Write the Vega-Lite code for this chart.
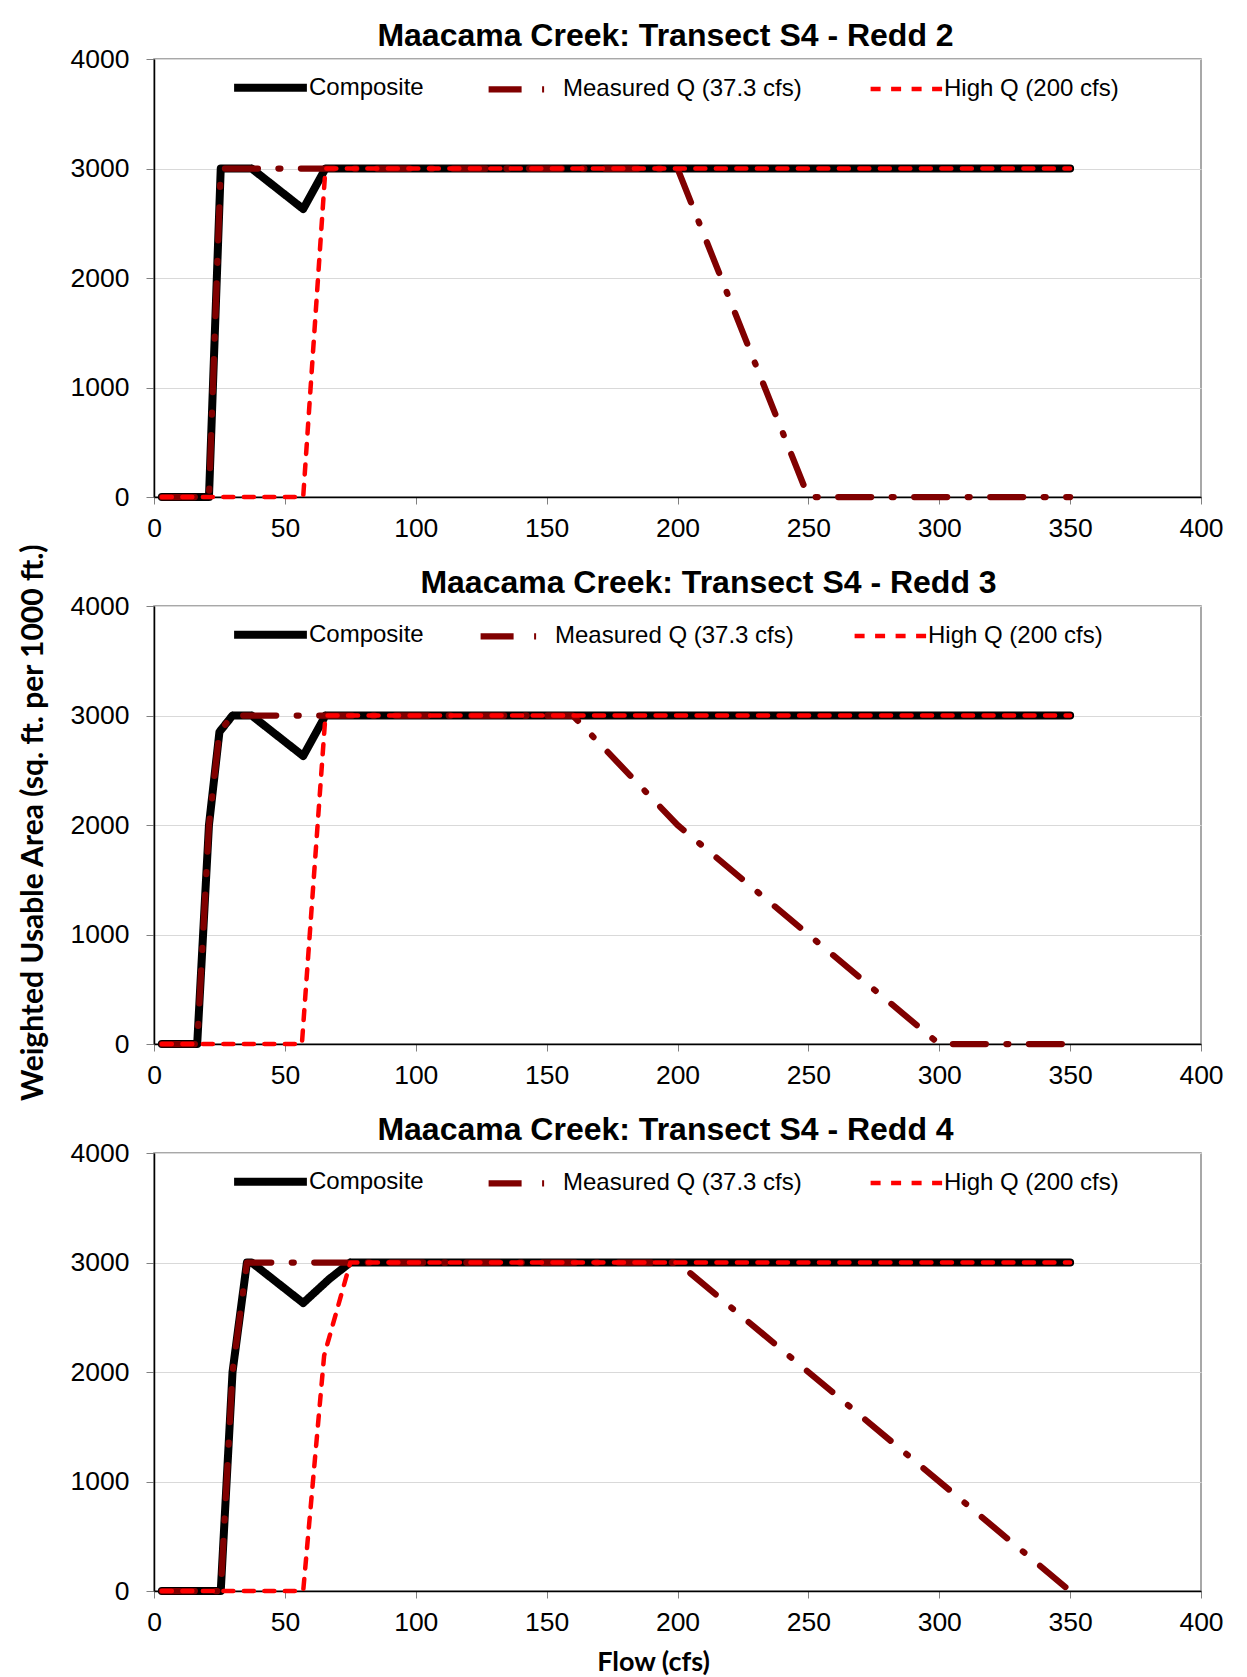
{
  "$schema": "https://vega.github.io/schema/vega-lite/v6.json",
  "background": "white",
  "padding": {"left": 19, "top": 19, "right": 5, "bottom": 0},
  "title": {"text": "Weighted Usable Area (sq. ft. per 1000 ft.)", "orient": "left", "anchor": "middle", "font": "Lato", "fontSize": 30, "fontWeight": "bold", "color": "black", "offset": 20, "dx": 25},
  "config": {
    "font": "Liberation Sans",
    "view": {"stroke": "#8c8c8c", "strokeWidth": 1.5},
    "axis": {"labelFont": "Liberation Sans", "labelFontSize": 26.5, "labelColor": "black", "domainColor": "black", "domainWidth": 1.5, "tickColor": "#808080", "tickSize": 7, "gridColor": "#d9d9d9", "gridWidth": 1.2, "format": "d", "labelFlush": false},
    "title": {"font": "Liberation Sans", "fontSize": 32, "fontWeight": "bold", "color": "black", "offset": -7},
    "legend": {"title": null, "orient": "none", "legendX": 76, "legendY": -12, "direction": "horizontal", "symbolType": "stroke", "symbolSize": 5300, "labelFontSize": 24, "labelFont": "Liberation Sans", "labelColor": "black", "labelOffset": -2, "labelLimit": 600, "columnPadding": 52}
  },
  "datasets": {
    "wua": [
      {"redd": "Redd 2", "series": "Composite", "flow": 3, "wua": 0},
      {"redd": "Redd 2", "series": "Composite", "flow": 21, "wua": 0},
      {"redd": "Redd 2", "series": "Composite", "flow": 25.5, "wua": 3000},
      {"redd": "Redd 2", "series": "Composite", "flow": 37.3, "wua": 3000},
      {"redd": "Redd 2", "series": "Composite", "flow": 57, "wua": 2630},
      {"redd": "Redd 2", "series": "Composite", "flow": 65.5, "wua": 3000},
      {"redd": "Redd 2", "series": "Composite", "flow": 350, "wua": 3000},
      {"redd": "Redd 2", "series": "Measured Q (37.3  cfs)", "flow": 3, "wua": 0},
      {"redd": "Redd 2", "series": "Measured Q (37.3  cfs)", "flow": 21, "wua": 0},
      {"redd": "Redd 2", "series": "Measured Q (37.3  cfs)", "flow": 25.5, "wua": 3000},
      {"redd": "Redd 2", "series": "Measured Q (37.3  cfs)", "flow": 200, "wua": 3000},
      {"redd": "Redd 2", "series": "Measured Q (37.3  cfs)", "flow": 250, "wua": 0},
      {"redd": "Redd 2", "series": "Measured Q (37.3  cfs)", "flow": 350, "wua": 0},
      {"redd": "Redd 2", "series": "High Q (200 cfs)", "flow": 3, "wua": 0},
      {"redd": "Redd 2", "series": "High Q (200 cfs)", "flow": 57, "wua": 0},
      {"redd": "Redd 2", "series": "High Q (200 cfs)", "flow": 65.5, "wua": 3000},
      {"redd": "Redd 2", "series": "High Q (200 cfs)", "flow": 350, "wua": 3000},

      {"redd": "Redd 3", "series": "Composite", "flow": 3, "wua": 0},
      {"redd": "Redd 3", "series": "Composite", "flow": 16.5, "wua": 0},
      {"redd": "Redd 3", "series": "Composite", "flow": 21, "wua": 2000},
      {"redd": "Redd 3", "series": "Composite", "flow": 25, "wua": 2850},
      {"redd": "Redd 3", "series": "Composite", "flow": 30, "wua": 3000},
      {"redd": "Redd 3", "series": "Composite", "flow": 37.3, "wua": 3000},
      {"redd": "Redd 3", "series": "Composite", "flow": 57, "wua": 2630},
      {"redd": "Redd 3", "series": "Composite", "flow": 65.5, "wua": 3000},
      {"redd": "Redd 3", "series": "Composite", "flow": 350, "wua": 3000},
      {"redd": "Redd 3", "series": "Measured Q (37.3  cfs)", "flow": 3, "wua": 0},
      {"redd": "Redd 3", "series": "Measured Q (37.3  cfs)", "flow": 16.5, "wua": 0},
      {"redd": "Redd 3", "series": "Measured Q (37.3  cfs)", "flow": 21, "wua": 2000},
      {"redd": "Redd 3", "series": "Measured Q (37.3  cfs)", "flow": 25, "wua": 2850},
      {"redd": "Redd 3", "series": "Measured Q (37.3  cfs)", "flow": 30, "wua": 3000},
      {"redd": "Redd 3", "series": "Measured Q (37.3  cfs)", "flow": 160, "wua": 3000},
      {"redd": "Redd 3", "series": "Measured Q (37.3  cfs)", "flow": 200, "wua": 2000},
      {"redd": "Redd 3", "series": "Measured Q (37.3  cfs)", "flow": 300, "wua": 0},
      {"redd": "Redd 3", "series": "Measured Q (37.3  cfs)", "flow": 350, "wua": 0},
      {"redd": "Redd 3", "series": "High Q (200 cfs)", "flow": 3, "wua": 0},
      {"redd": "Redd 3", "series": "High Q (200 cfs)", "flow": 56.5, "wua": 0},
      {"redd": "Redd 3", "series": "High Q (200 cfs)", "flow": 65.5, "wua": 3000},
      {"redd": "Redd 3", "series": "High Q (200 cfs)", "flow": 350, "wua": 3000},

      {"redd": "Redd 4", "series": "Composite", "flow": 3, "wua": 0},
      {"redd": "Redd 4", "series": "Composite", "flow": 25.5, "wua": 0},
      {"redd": "Redd 4", "series": "Composite", "flow": 30, "wua": 2000},
      {"redd": "Redd 4", "series": "Composite", "flow": 35.5, "wua": 3000},
      {"redd": "Redd 4", "series": "Composite", "flow": 37.3, "wua": 3000},
      {"redd": "Redd 4", "series": "Composite", "flow": 57, "wua": 2630},
      {"redd": "Redd 4", "series": "Composite", "flow": 67, "wua": 2850},
      {"redd": "Redd 4", "series": "Composite", "flow": 75, "wua": 3000},
      {"redd": "Redd 4", "series": "Composite", "flow": 350, "wua": 3000},
      {"redd": "Redd 4", "series": "Measured Q (37.3  cfs)", "flow": 3, "wua": 0},
      {"redd": "Redd 4", "series": "Measured Q (37.3  cfs)", "flow": 25.5, "wua": 0},
      {"redd": "Redd 4", "series": "Measured Q (37.3  cfs)", "flow": 30, "wua": 2000},
      {"redd": "Redd 4", "series": "Measured Q (37.3  cfs)", "flow": 35.5, "wua": 3000},
      {"redd": "Redd 4", "series": "Measured Q (37.3  cfs)", "flow": 200, "wua": 3000},
      {"redd": "Redd 4", "series": "Measured Q (37.3  cfs)", "flow": 350, "wua": 0},
      {"redd": "Redd 4", "series": "High Q (200 cfs)", "flow": 3, "wua": 0},
      {"redd": "Redd 4", "series": "High Q (200 cfs)", "flow": 57, "wua": 0},
      {"redd": "Redd 4", "series": "High Q (200 cfs)", "flow": 65, "wua": 2150},
      {"redd": "Redd 4", "series": "High Q (200 cfs)", "flow": 75, "wua": 3000},
      {"redd": "Redd 4", "series": "High Q (200 cfs)", "flow": 350, "wua": 3000}
    ]
  },
  "spacing": 23,
  "resolve": {
    "scale": {"color": "independent", "strokeDash": "independent", "strokeWidth": "independent"},
    "legend": {"color": "independent", "strokeDash": "independent", "strokeWidth": "independent"}
  },
  "vconcat": [
    {
      "width": 1047, "height": 438,
      "title": {"text": "Maacama Creek: Transect S4 - Redd 2", "dx": -12},
      "data": {"name": "wua"},
      "transform": [{"filter": "datum.redd === 'Redd 2'"}],
      "mark": {"type": "line", "strokeCap": "round", "strokeJoin": "round"},
      "encoding": {
        "x": {"field": "flow", "type": "quantitative", "scale": {"domain": [0, 400], "nice": false}, "axis": {"values": [0, 50, 100, 150, 200, 250, 300, 350, 400], "title": null, "grid": false, "labelPadding": 11}},
        "y": {"field": "wua", "type": "quantitative", "scale": {"domain": [0, 4000], "nice": false}, "axis": {"values": [0, 1000, 2000, 3000, 4000], "title": null, "grid": true, "tickSize": 8, "labelPadding": 17}},
        "color": {"field": "series", "type": "nominal", "scale": {"domain": ["Composite", "Measured Q (37.3  cfs)", "High Q (200 cfs)"], "range": ["#000000", "#800000", "#ff0000"]}, "legend": {"columnPadding": 52}},
        "strokeDash": {"field": "series", "type": "nominal", "scale": {"domain": ["Composite", "Measured Q (37.3  cfs)", "High Q (200 cfs)"], "range": [[1, 0], [33, 20.5, 2, 20.5], [10, 10.5]]}, "legend": {"columnPadding": 52}},
        "strokeWidth": {"field": "series", "type": "nominal", "scale": {"domain": ["Composite", "Measured Q (37.3  cfs)", "High Q (200 cfs)"], "range": [8, 4.5, 6]}, "legend": {"columnPadding": 52}}
      }
    },
    {
      "width": 1047, "height": 438,
      "title": {"text": "Maacama Creek: Transect S4 - Redd 3", "dx": 31},
      "data": {"name": "wua"},
      "transform": [{"filter": "datum.redd === 'Redd 3'"}],
      "mark": {"type": "line", "strokeCap": "round", "strokeJoin": "round"},
      "encoding": {
        "x": {"field": "flow", "type": "quantitative", "scale": {"domain": [0, 400], "nice": false}, "axis": {"values": [0, 50, 100, 150, 200, 250, 300, 350, 400], "title": null, "grid": false, "labelPadding": 11}},
        "y": {"field": "wua", "type": "quantitative", "scale": {"domain": [0, 4000], "nice": false}, "axis": {"values": [0, 1000, 2000, 3000, 4000], "title": null, "grid": true, "tickSize": 8, "labelPadding": 17}},
        "color": {"field": "series", "type": "nominal", "scale": {"domain": ["Composite", "Measured Q (37.3  cfs)", "High Q (200 cfs)"], "range": ["#000000", "#800000", "#ff0000"]}, "legend": {"columnPadding": 44}},
        "strokeDash": {"field": "series", "type": "nominal", "scale": {"domain": ["Composite", "Measured Q (37.3  cfs)", "High Q (200 cfs)"], "range": [[1, 0], [33, 20.5, 2, 20.5], [10, 10.5]]}, "legend": {"columnPadding": 44}},
        "strokeWidth": {"field": "series", "type": "nominal", "scale": {"domain": ["Composite", "Measured Q (37.3  cfs)", "High Q (200 cfs)"], "range": [8, 4.5, 6]}, "legend": {"columnPadding": 44}}
      }
    },
    {
      "width": 1047, "height": 438,
      "title": {"text": "Maacama Creek: Transect S4 - Redd 4", "dx": -12},
      "data": {"name": "wua"},
      "transform": [{"filter": "datum.redd === 'Redd 4'"}],
      "mark": {"type": "line", "strokeCap": "round", "strokeJoin": "round"},
      "encoding": {
        "x": {"field": "flow", "type": "quantitative", "scale": {"domain": [0, 400], "nice": false}, "axis": {"values": [0, 50, 100, 150, 200, 250, 300, 350, 400], "title": "Flow (cfs)", "titleFont": "Lato", "titleFontSize": 27, "titleFontWeight": "bold", "titleColor": "black", "titleX": 499, "titlePadding": 14, "grid": false, "labelPadding": 11}},
        "y": {"field": "wua", "type": "quantitative", "scale": {"domain": [0, 4000], "nice": false}, "axis": {"values": [0, 1000, 2000, 3000, 4000], "title": null, "grid": true, "tickSize": 8, "labelPadding": 17}},
        "color": {"field": "series", "type": "nominal", "scale": {"domain": ["Composite", "Measured Q (37.3  cfs)", "High Q (200 cfs)"], "range": ["#000000", "#800000", "#ff0000"]}, "legend": {"columnPadding": 52}},
        "strokeDash": {"field": "series", "type": "nominal", "scale": {"domain": ["Composite", "Measured Q (37.3  cfs)", "High Q (200 cfs)"], "range": [[1, 0], [33, 20.5, 2, 20.5], [10, 10.5]]}, "legend": {"columnPadding": 52}},
        "strokeWidth": {"field": "series", "type": "nominal", "scale": {"domain": ["Composite", "Measured Q (37.3  cfs)", "High Q (200 cfs)"], "range": [8, 4.5, 6]}, "legend": {"columnPadding": 52}}
      }
    }
  ]
}
